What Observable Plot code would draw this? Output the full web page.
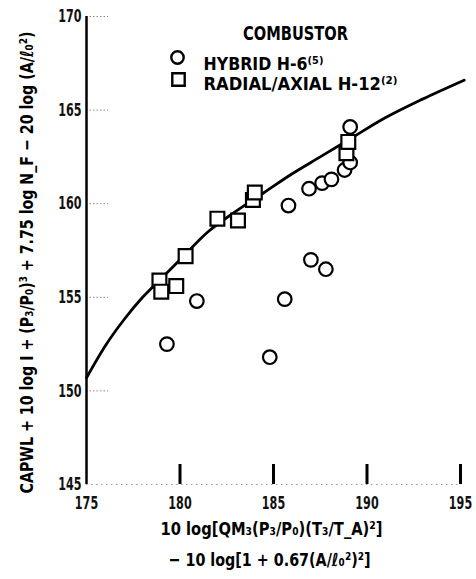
<!DOCTYPE html>
<html>
<head>
<meta charset="utf-8">
<script src="https://cdn.jsdelivr.net/npm/d3@7"></script>
<script src="https://cdn.jsdelivr.net/npm/@observablehq/plot@0.6"></script>
<style>
  html, body { margin: 0; padding: 0; background: #fff; }
  #chart { width: 476px; height: 579px; }
  #chart svg text { font-weight: bold; }
</style>
</head>
<body>
<div id="chart"></div>
<script>
// ---- data ----
const xTicks = [175, 180, 185, 190, 195];
const yTicks = [145, 150, 155, 160, 165, 170];

// fitted curve
const curveX = [175.0, 176.0, 177.0, 178.0, 179.0, 180.0, 181.5, 183.0, 184.5, 186.0, 187.5, 189.0, 191.0, 193.0, 195.2];
const curveY = [150.7, 152.4, 153.8, 155.0, 156.0, 157.0, 158.5, 159.6, 160.6, 161.6, 162.5, 163.4, 164.6, 165.6, 166.6];

// HYBRID H-6 (circles)
const hybridX = [179.3, 180.9, 184.8, 185.6, 187.0, 187.8, 185.8, 186.9, 187.6, 188.1, 188.8, 189.1, 189.1];
const hybridY = [152.5, 154.8, 151.8, 154.9, 157.0, 156.5, 159.9, 160.8, 161.1, 161.3, 161.8, 162.2, 164.1];

// RADIAL/AXIAL H-12 (squares)
const radialX = [178.9, 179.0, 179.8, 180.3, 182.0, 183.1, 183.9, 184.0, 188.9, 189.0];
const radialY = [155.9, 155.3, 155.6, 157.2, 159.2, 159.1, 160.2, 160.6, 162.7, 163.3];

const legendTitle = "COMBUSTOR";
const legendLabels = ["HYBRID H-6⁽⁵⁾", "RADIAL/AXIAL H-12⁽²⁾"];
const xLabelLines = ["10 log[QM₃(P₃/P₀)(T₃/T_A)²]", "− 10 log[1 + 0.67(A/ℓ₀²)²]"];
const yLabel = "CAPWL + 10 log I + (P₃/P₀)³ + 7.75 log N_F − 20 log (A/ℓ₀²)";

// ---- build tables ----
const curve = curveX.map((x, i) => ({x, y: curveY[i]}));
const hybrid = hybridX.map((x, i) => ({x, y: hybridY[i]}));
const radial = radialX.map((x, i) => ({x, y: radialY[i]}));

const font = "'DejaVu Sans', sans-serif";

const chart = Plot.plot({
  width: 476,
  height: 579,
  marginLeft: 86,
  marginRight: 16,
  marginTop: 16,
  marginBottom: 95,
  style: {fontFamily: font, fontSize: "15px", background: "#fff", color: "#111"},
  x: {domain: [175, 195]},
  y: {domain: [145, 170]},
  marks: [
    Plot.tickY(yTicks.slice(1), {y: d => d, stroke: "#888", strokeWidth: 1, strokeDasharray: "1.5,2", insetRight: 352}),
    Plot.ruleY([145], {stroke: "#999", strokeWidth: 1, strokeDasharray: "1.5,3.5"}),
    Plot.tickX(xTicks.slice(1), {x: d => d, stroke: "#000", strokeWidth: 3, insetTop: 448}),
    Plot.ruleX([175], {stroke: "#000", strokeWidth: 2.5}),
    Plot.line(curve, {x: "x", y: "y", curve: "monotone-x", stroke: "#000", strokeWidth: 2.8}),
    Plot.dot(hybrid, {x: "x", y: "y", symbol: "circle", r: 6.8, fill: "#fff", stroke: "#000", strokeWidth: 2.2}),
    Plot.dot(radial, {x: "x", y: "y", symbol: "square", r: 7.8, fill: "#fff", stroke: "#000", strokeWidth: 2.2}),
    Plot.axisX({ticks: xTicks, tickSize: 0, tickPadding: 12, label: null, fontSize: 18}),
    Plot.axisY({ticks: yTicks, tickSize: 0, tickPadding: 5, label: null, fontSize: 18}),
    Plot.text([xLabelLines[0]], {text: d => d, frameAnchor: "bottom", dx: -2, dy: 50, fontSize: 18, fill: "#000"}),
    Plot.text([xLabelLines[1]], {text: d => d, frameAnchor: "bottom", dx: -4, dy: 81, fontSize: 18, fill: "#000"}),
    Plot.text([yLabel], {text: d => d, frameAnchor: "left", textAnchor: "middle", dx: -59, dy: 12, rotate: -90, fontSize: 18, fill: "#000"}),
    Plot.text([legendTitle], {text: d => d, frameAnchor: "top-left", dx: 209, dy: 9, textAnchor: "middle", fontSize: 20, fill: "#000"}),
    Plot.dot([legendLabels[0]], {frameAnchor: "top-left", dx: 91, dy: 41, symbol: "circle", r: 6.2, fill: "#fff", stroke: "#000", strokeWidth: 2.4}),
    Plot.dot([legendLabels[1]], {frameAnchor: "top-left", dx: 92, dy: 63, symbol: "square", r: 7, fill: "#fff", stroke: "#000", strokeWidth: 2.4}),
    Plot.text([legendLabels[0]], {text: d => d, frameAnchor: "top-left", dx: 117, dy: 41, textAnchor: "start", fontSize: 18, fill: "#000"}),
    Plot.text([legendLabels[1]], {text: d => d, frameAnchor: "top-left", dx: 117, dy: 61, textAnchor: "start", fontSize: 18, fill: "#000"})
  ]
});
document.getElementById("chart").appendChild(chart);

// condense the lettering to match the narrow type of the original
const targetWidths = new Map([
  [yLabel, 462],
  [xLabelLines[0], 222],
  [xLabelLines[1], 202],
  [legendTitle, 105],
  [legendLabels[0], 120],
  [legendLabels[1], 194]
]);
d3.select(chart).selectAll("text").each(function () {
  const s = this.textContent;
  const L = this.getComputedTextLength();
  const w = targetWidths.has(s) ? targetWidths.get(s) : L * 0.62;
  this.setAttribute("textLength", w);
  this.setAttribute("lengthAdjust", "spacingAndGlyphs");
});
</script>
</body>
</html>
